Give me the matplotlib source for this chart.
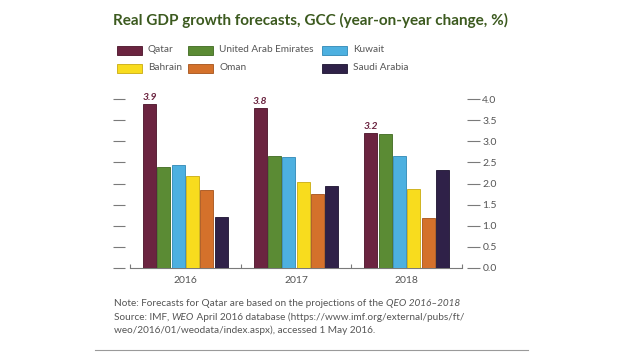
import matplotlib
matplotlib.use('Agg')
import matplotlib.pyplot as plt
import numpy as np
from matplotlib.patches import Rectangle
from matplotlib.lines import Line2D

# Data
years = ['2016', '2017', '2018']
countries = ['Qatar', 'United Arab Emirates', 'Kuwait', 'Bahrain', 'Oman', 'Saudi Arabia']
qatar = [3.9, 3.8, 3.2]
uae = [2.40, 2.65, 3.18]
kuwait = [2.43, 2.64, 2.65]
bahrain = [2.19, 2.04, 1.88]
oman = [1.85, 1.76, 1.18]
saudi = [1.21, 1.93, 2.32]
series = [qatar, uae, kuwait, bahrain, oman, saudi]
yticks = [0.0, 0.5, 1.0, 1.5, 2.0, 2.5, 3.0, 3.5, 4.0]

# Colours
COLORS = ['#6b2440', '#5b8b34', '#4db0e0', '#f8dc1e', '#d4712b', '#2f2148']
EDGES = ['#4a1228', '#3f6a20', '#2f88b5', '#c9ab10', '#a5521a', '#1c1230']
TITLE_C = '#3c5a1f'
GREY = '#555555'
AX_C = '#7a7a7a'

FONT = 'Lato'
plt.rcParams['font.family'] = [FONT, 'DejaVu Sans']
FS = 7.2

W, H = 620, 355
fig = plt.figure(figsize=(W / 100, H / 100), dpi=100, facecolor='white')

# axes geometry in pixels
px_left, px_right = 125, 467
px_y0, px_top = 267.7, 95.1
ax = fig.add_axes([px_left / W, (H - px_y0) / H, (px_right - px_left) / W,
                   (px_y0 - px_top) / H])
ax.set_facecolor('white')

ppu = (462 - 130) / 3.0
x0 = -0.5 - (130 - px_left) / ppu
x1 = 2.5 + (px_right - 462) / ppu
ax.set_xlim(x0, x1)
ax.set_ylim(0, 4.1)

x = np.arange(len(years))
step = 0.13
bw = 0.118
for k, vals in enumerate(series):
    ax.bar(x + (k - 2.5) * step, vals, width=bw, color=COLORS[k],
           edgecolor=EDGES[k], linewidth=0.6, zorder=3)

for i, v in enumerate(qatar):
    ax.text(x[i] - 2.5 * step, v + 0.04, f'{v:.1f}', ha='center', va='bottom',
            fontsize=7.5, fontweight='bold', fontstyle='italic', color=COLORS[0])

for s in ['top', 'left', 'right']:
    ax.spines[s].set_visible(False)
ax.spines['bottom'].set_color(AX_C)
ax.spines['bottom'].set_linewidth(0.8)
ax.spines['bottom'].set_bounds(-0.5, 2.5)

ax.set_xticks(x)
ax.set_xticklabels(years)
ax.set_xticks([-0.5, 0.5, 1.5, 2.5], minor=True)
ax.tick_params(axis='x', which='major', length=0, pad=6, labelsize=7.5, labelcolor=GREY)
ax.tick_params(axis='x', which='minor', direction='in', length=3, color=AX_C, width=0.8)

ax.set_yticks(yticks)
ax.set_yticklabels([f'{t:.1f}' for t in yticks])
ax.tick_params(axis='y', which='both', left=True, right=True, labelleft=False,
               labelright=True, direction='out', length=9, width=0.8,
               color=AX_C, labelsize=7.5, labelcolor=GREY, pad=2)

# Title
fig.text(113 / W, 1 - 20 / H, 'Real GDP growth forecasts, GCC (year-on-year change, %)',
         fontsize=11, fontweight='bold', color=TITLE_C, ha='left', va='center')

# Legend (manual, row-major)
box_x = [117, 188, 322]
row_y = [50, 68]
for k, name in enumerate(countries):
    r, c = divmod(k, 3)
    bx = box_x[c]
    by = row_y[r]
    fig.patches.append(Rectangle((bx / W, 1 - (by + 4.5) / H), 25 / W, 9 / H,
                                 transform=fig.transFigure, facecolor=COLORS[k],
                                 edgecolor=EDGES[k], linewidth=0.6))
    fig.text((bx + 31) / W, 1 - by / H, name, fontsize=FS, color=GREY,
             ha='left', va='center')

# Footer
renderer = fig.canvas.get_renderer()


def runs(parts, px, py):
    cx = px
    for txt, style in parts:
        t = fig.text(cx / W, 1 - py / H, txt, fontsize=FS, color=GREY,
                     fontstyle=style, ha='left', va='center')
        cx += t.get_window_extent(renderer).width


runs([('Note: Forecasts for Qatar are based on the projections of the ', 'normal'),
      ('QEO 2016\u20132018', 'italic')], 114, 304)
runs([('Source: IMF, ', 'normal'), ('WEO', 'italic'),
      (' April 2016 database (https://www.imf.org/external/pubs/ft/', 'normal')], 114, 317.3)
runs([('weo/2016/01/weodata/index.aspx), accessed 1 May 2016.', 'normal')], 114, 330)

fig.lines.append(Line2D([95 / W, 528 / W], [1 - 350 / H, 1 - 350 / H],
                        transform=fig.transFigure, color='#9a9a9a', linewidth=0.8))

fig.savefig('out.png', dpi=100, facecolor='white')
plt.close()
